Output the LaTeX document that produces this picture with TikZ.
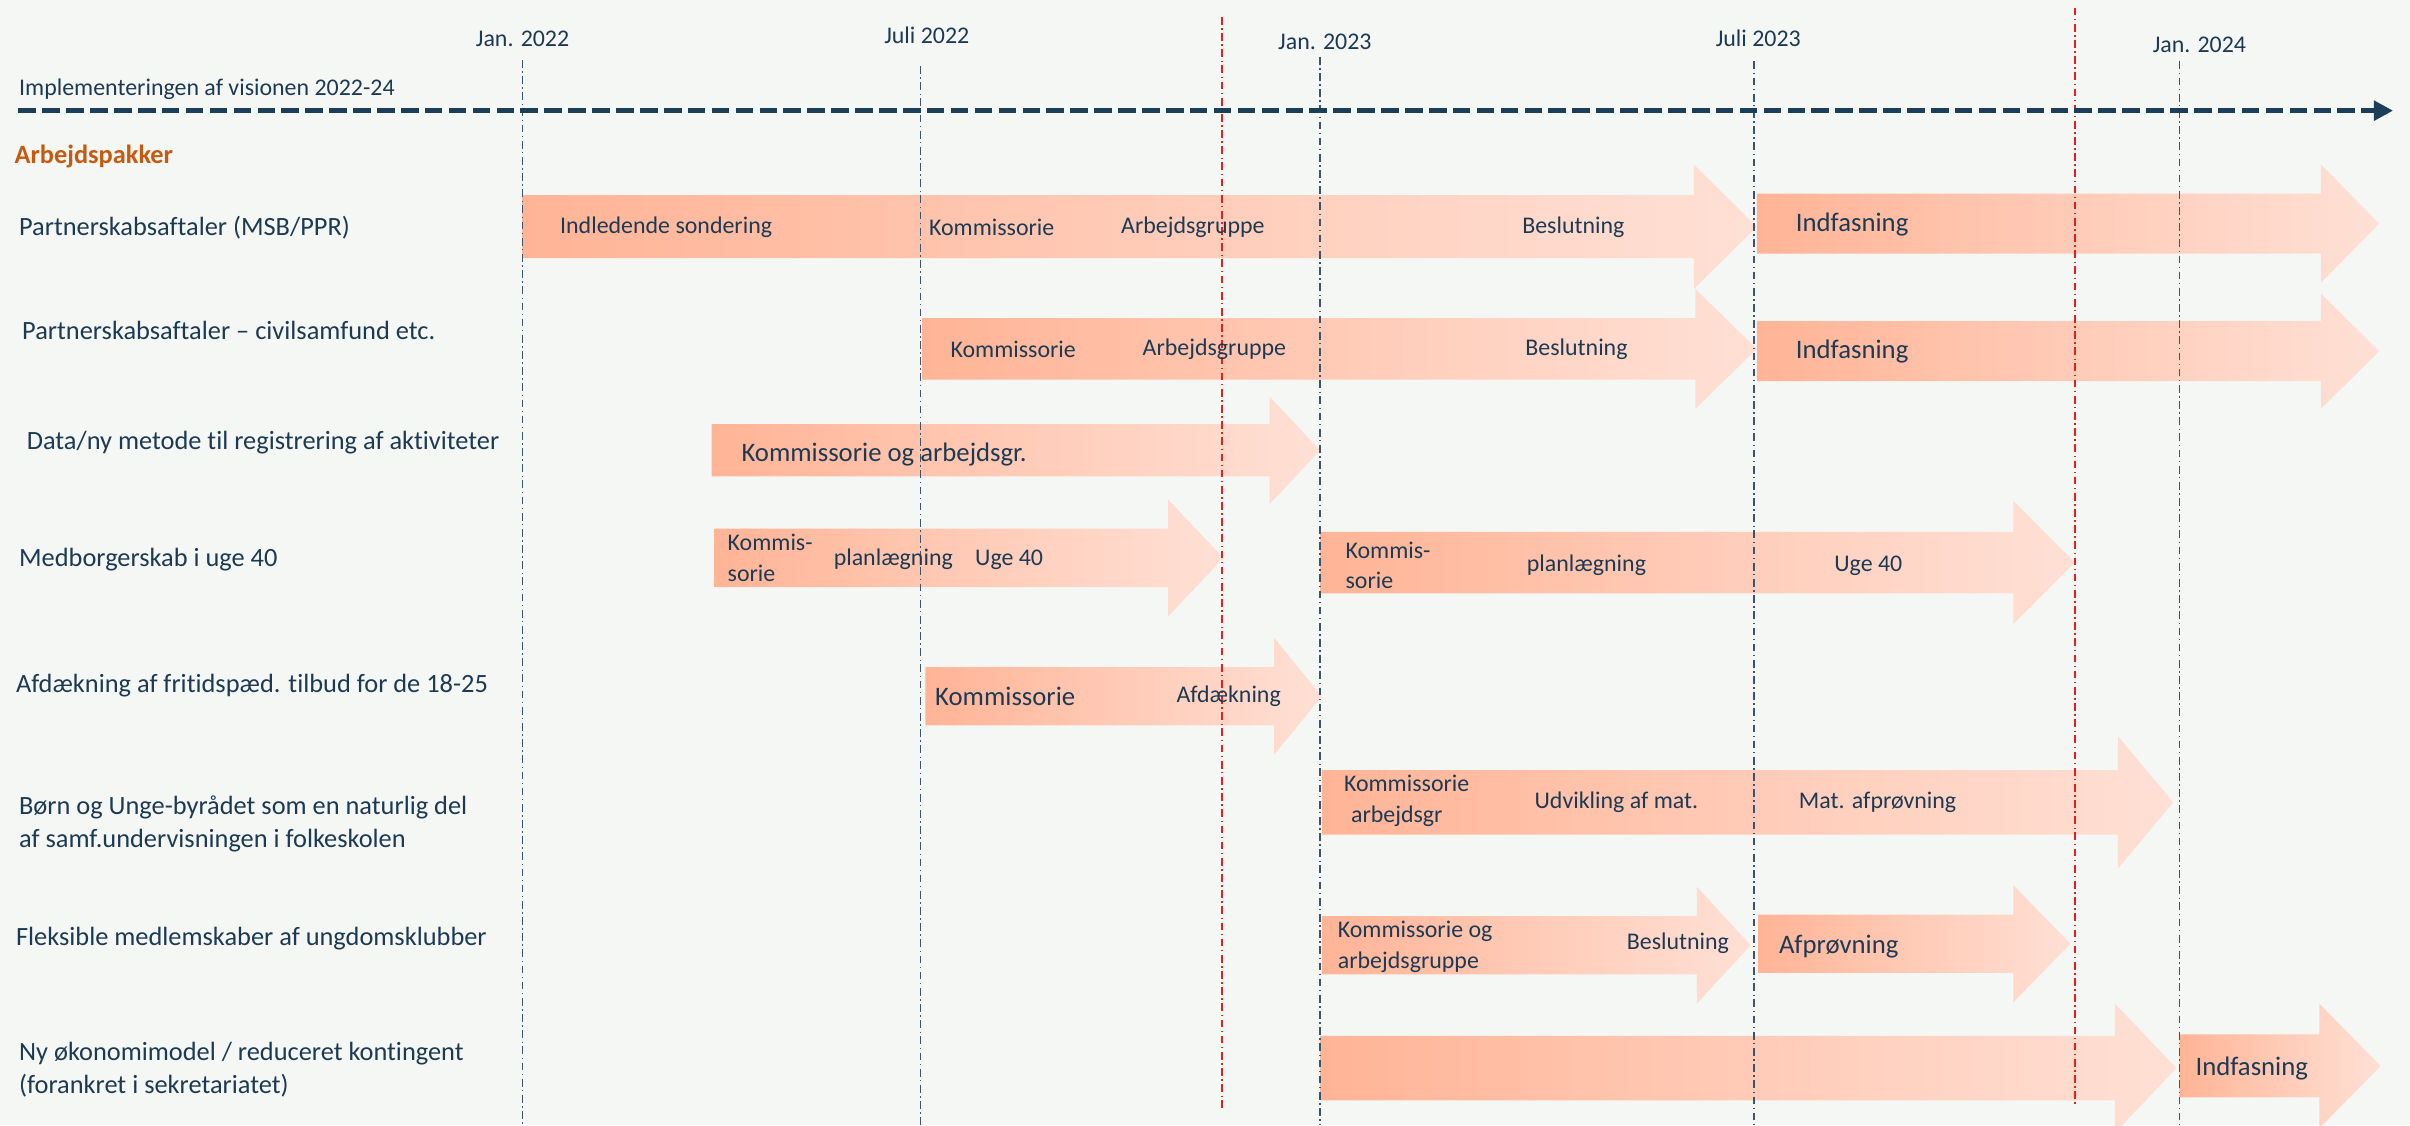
\documentclass[tikz,border=0pt]{standalone}
\usepackage{fontspec}
\setmainfont{Carlito}[Ligatures=CommonOff]
\usetikzlibrary{arrows.meta}
\definecolor{bg}{RGB}{245,247,245}
\definecolor{txt}{RGB}{29,58,84}
\definecolor{navy}{RGB}{27,63,88}
\definecolor{orng}{RGB}{197,90,17}
\definecolor{arrL}{RGB}{255,180,150}
\definecolor{arrM}{RGB}{255,203,183}
\definecolor{arrR}{RGB}{255,224,213}
\definecolor{vline}{RGB}{60,85,110}
\definecolor{rline}{RGB}{232,30,30}
\newcommand\garrow[6]{%
  \shade[arrowfill] (#1,#4) -- (#2,#4) -- (#2,#4-#6) -- (#3,{(#4+#5)/2}) -- (#2,#5+#6) -- (#2,#5) -- (#1,#5) -- cycle;}
\begin{document}
\begin{tikzpicture}[x=0.01537cm,y=-0.01537cm,
  lbl/.style={anchor=west,inner sep=0pt,text=txt,align=left,font=\fontsize{7.5}{9.2}\selectfont},
  sm/.style={anchor=west,inner sep=0pt,text=txt,align=left,font=\fontsize{6.8}{8.6}\selectfont},
  big/.style={anchor=west,inner sep=0pt,text=txt,align=left,font=\fontsize{7.6}{9}\selectfont},
  datelbl/.style={anchor=center,inner sep=0pt,text=txt,font=\fontsize{6.8}{8}\selectfont},
  arrowfill/.style={left color=arrL,right color=arrR,middle color=arrM},
  vl/.style={draw=vline,line width=0.45pt,dash pattern=on 2.2pt off 1pt on 0.4pt off 1pt},
  rl/.style={draw=rline,line width=0.45pt,dash pattern=on 2.2pt off 1pt on 0.4pt off 1pt},
  timeline/.style={draw=navy,line width=1.5pt,dash pattern=on 5pt off 1.8pt,-{Triangle[length=5.5pt,width=5.5pt]}}
]
\clip (0,0) rectangle (1568,732);
\fill[bg] (0,0) rectangle (1568,732);

% arrows
\garrow{340}{1102}{1143}{127}{168}{20}
\garrow{1143}{1510}{1548}{126}{165}{19}
\garrow{600}{1103}{1143}{207}{247}{19}
\garrow{1143}{1510}{1548}{209}{248}{18}
\garrow{463}{826}{859}{276}{310}{18}
\garrow{465}{760}{796}{344}{382}{19}
\garrow{859}{1310}{1350}{346}{386}{20}
\garrow{602}{829}{860}{434}{472}{19}
\garrow{860}{1378}{1414}{501}{543}{22}
\garrow{860}{1104}{1139}{596}{634}{19}
\garrow{1144}{1310}{1347}{595}{633}{19}
\garrow{859}{1376}{1416}{674}{716}{21}
\garrow{1418}{1509}{1549}{673}{714}{20}

% vertical guide lines
\coordinate (v1t) at (340,39);  \coordinate (v1b) at (340,732);
\coordinate (v2t) at (599,43);  \coordinate (v2b) at (599,732);
\coordinate (v3t) at (859,37);  \coordinate (v3b) at (859,732);
\coordinate (v4t) at (1141,40); \coordinate (v4b) at (1141,732);
\coordinate (v5t) at (1418,40); \coordinate (v5b) at (1418,732);
\coordinate (r1t) at (795,11);  \coordinate (r1b) at (795,722);
\coordinate (r2t) at (1350,5);  \coordinate (r2b) at (1350,718);
\draw[vl] (v1t) -- (v1b);
\draw[vl] (v2t) -- (v2b);
\draw[vl] (v3t) -- (v3b);
\draw[vl] (v4t) -- (v4b);
\draw[vl] (v5t) -- (v5b);
\draw[rl] (r1t) -- (r1b);
\draw[rl] (r2t) -- (r2b);

% timeline
\coordinate (tls) at (12,72);
\coordinate (tle) at (1557,72);
\draw[timeline] (tls) -- (tle);

% dates
\node[datelbl] (d1) at (340,25) {Jan. 2022};
\node[datelbl] (d2) at (603,23) {Juli 2022};
\node[datelbl] (d3) at (862,27) {Jan. 2023};
\node[datelbl] (d4) at (1144,25) {Juli 2023};
\node[datelbl] (d5) at (1431,29) {Jan. 2024};

\node[lbl,font=\fontsize{6.8}{8}\selectfont] (impl) at (12,58) {Implementeringen af visionen 2022-24};
\node[lbl,text=orng,font=\fontsize{7.5}{9}\selectfont\bfseries] (ap) at (9,102) {Arbejdspakker};

% left labels
\node[lbl] (l1) at (12,148) {Partnerskabsaftaler (MSB/PPR)};
\node[lbl] (l2) at (14,215) {Partnerskabsaftaler -- civilsamfund etc.};
\node[lbl] (l3) at (17,288) {Data/ny metode til registrering af aktiviteter};
\node[lbl] (l4) at (12,364) {Medborgerskab i uge 40};
\node[lbl] (l5) at (10,446) {Afdækning af fritidspæd. tilbud for de 18-25};
\node[lbl] (l6) at (12,536) {Børn og Unge-byrådet som en naturlig del\\af samf.undervisningen i folkeskolen};
\node[lbl] (l7) at (10,611) {Fleksible medlemskaber af ungdomsklubber};
\node[lbl] (l8) at (12,696) {Ny økonomimodel / reduceret kontingent\\(forankret i sekretariatet)};

% row 1
\node[sm] (a1) at (364,148) {Indledende sondering};
\node[sm] (a2) at (604,148) {Kommissorie};
\node[sm] (a3) at (729,148) {Arbejdsgruppe};
\node[sm] (a4) at (990,148) {Beslutning};
\node[big] (a5) at (1168,146) {Indfasning};
% row 2
\node[sm] (b1) at (618,227) {Kommissorie};
\node[sm] (b2) at (743,227) {Arbejdsgruppe};
\node[sm] (b3) at (992,227) {Beslutning};
\node[big] (b4) at (1168,229) {Indfasning};
% row 3
\node[big] (c1) at (482,296) {Kommissorie og arbejdsgr.};
% row 4
\node[sm] (e1) at (473,363) {Kommis-\\sorie};
\node[sm] (e2) at (542,364) {planlægning};
\node[sm] (e3) at (634,364) {Uge 40};
\node[sm] (e4) at (875,368) {Kommis-\\sorie};
\node[sm] (e5) at (993,368) {planlægning};
\node[sm] (e6) at (1193,368) {Uge 40};
% row 5
\node[big] (f1) at (608,453) {Kommissorie};
\node[sm] (f2) at (765,453) {Afdækning};
% row 6
\node[sm] (g1) at (874,521) {Kommissorie\\\hspace{2pt}arbejdsgr};
\node[sm] (g2) at (998,522) {Udvikling af mat.};
\node[sm] (g3) at (1170,522) {Mat. afprøvning};
% row 7
\node[sm] (h1) at (870,616) {Kommissorie og\\arbejdsgruppe};
\node[sm] (h2) at (1058,614) {Beslutning};
\node[big] (h3) at (1157,616) {Afprøvning};
% row 8
\node[big] (k1) at (1428,695) {Indfasning};
\end{tikzpicture}
\end{document}
